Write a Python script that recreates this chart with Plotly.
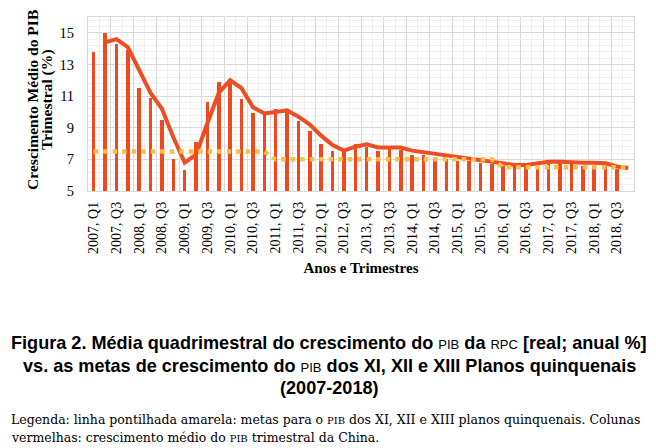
import plotly.graph_objects as go

# quarters 2007 Q1 .. 2018 Q4
years = list(range(2007, 2019))
quarters = ["Q1", "Q2", "Q3", "Q4"]
periods = [f"{y}, {q}" for y in years for q in quarters]

# quarterly GDP growth (red columns); 2018 Q4 has no column
pib_trimestral = [
    13.8, 15.0, 14.3, 13.9,
    11.5, 10.9, 9.5, 7.0,
    6.3, 8.1, 10.6, 11.9,
    12.1, 10.8, 9.9, 9.9,
    10.2, 10.0, 9.4, 8.8,
    8.0, 7.5, 7.5, 8.0,
    7.8, 7.5, 7.8, 7.6,
    7.3, 7.3, 7.0, 7.0,
    6.9, 6.9, 6.8, 6.7,
    6.6, 6.6, 6.6, 6.7,
    6.8, 6.8, 6.7, 6.6,
    6.6, 6.6, 6.4, None,
]

# average growth (thick line), starts at 2007 Q2
media = [
    None, 14.4, 14.6, 14.1,
    12.7, 11.2, 10.2, 8.4,
    6.8, 7.3, 9.3, 11.2,
    12.0, 11.5, 10.3, 9.9,
    10.0, 10.1, 9.7, 9.2,
    8.5, 7.9, 7.55, 7.8,
    7.95, 7.75, 7.75, 7.75,
    7.55, 7.45, 7.3, 7.2,
    7.1, 7.0, 6.95, 6.85,
    6.7, 6.65, 6.65, 6.75,
    6.85, 6.85, 6.8, 6.78,
    6.78, 6.75, 6.55, 6.45,
]

# five-year plan targets (XI, XII, XIII)
metas = [7.5] * 16 + [7.0] * 20 + [6.5] * 12

idx = list(range(len(periods)))
label_idx = idx[::2]
label_txt = periods[::2]

serif = "Liberation Serif"
sans = "Liberation Sans"

fig = go.Figure()
fig.add_trace(go.Bar(x=idx, y=pib_trimestral, width=0.3,
                     marker=dict(color="#ED4A1F", line=dict(width=0)),
                     showlegend=False))
fig.add_trace(go.Scatter(x=idx, y=media, mode="lines", xaxis="x2",
                         line=dict(color="#EC4D22", width=4),
                         showlegend=False))
fig.add_trace(go.Scatter(x=idx, y=metas, mode="lines", xaxis="x2",
                         line=dict(color="#FDBE48", width=4.5, dash="4.5px,5px"),
                         showlegend=False))

# page is offset by the 8px body margin
OFF = 8
L, R, T, B = 88, 634, 17, 191   # plot area in page pixels
W, H = 656 - OFF, 448 - OFF


def px(x):
    return (x - L) / (R - L)


def py(y):
    return (B - y) / (B - T)


annotations = []

# y axis title, two rotated lines
for t, xx in zip(["<b>Crescimento Médio do PIB</b>", "<b>Trimestral (%)</b>"], [32, 47]):
    annotations.append(dict(text=t, x=px(xx), y=py(100), xref="paper", yref="paper",
                            textangle=-90, showarrow=False,
                            xanchor="center", yanchor="middle",
                            font=dict(family=serif, size=15.6, color="#000")))

sc = '<span style="font-size:13px;font-weight:normal">%s</span>'
cap = [
    "<b>Figura 2. Média quadrimestral do crescimento do </b>" + sc % "PIB"
    + "<b> da </b>" + sc % "RPC" + "<b> [real; anual %]</b>",
    "<b>vs. as metas de crescimento do </b>" + sc % "PIB"
    + "<b> dos XI, XII e XIII Planos quinquenais</b>",
    "<b>(2007-2018)</b>",
]
cap_y = [343, 366, 388]
for t, yy in zip(cap, cap_y):
    annotations.append(dict(text=t, x=px(329), y=py(yy), xref="paper", yref="paper",
                            showarrow=False, xanchor="center", yanchor="middle",
                            font=dict(family=sans, size=18.1, color="#000")))

sm = '<span style="font-size:10px">PIB</span>'
leg = [
    "Legenda: linha pontilhada amarela: metas para o " + sm
    + " dos XI, XII e XIII planos quinquenais. Colunas",
    "vermelhas: crescimento médio do " + sm + " trimestral da China.",
]
for t, yy in zip(leg, [419, 437]):
    annotations.append(dict(text=t, x=px(OFF + 1), y=py(yy), xref="paper", yref="paper",
                            showarrow=False, xanchor="left", yanchor="middle",
                            font=dict(family="DejaVu Serif", size=12.5, color="#000")))

fig.update_layout(
    width=W, height=H,
    margin=dict(l=L - OFF, r=W - (R - OFF), t=T - OFF, b=H - (B - OFF), pad=0),
    paper_bgcolor="white", plot_bgcolor="white",
    bargap=0,
    xaxis=dict(range=[-0.5, 47.5], showgrid=True, tick0=-0.5, dtick=2,
               gridcolor="#D9D9D9", gridwidth=1,
               minor=dict(showgrid=True, tick0=-0.5, dtick=1, gridcolor="#F0F0F0"),
               showticklabels=False, ticks="", zeroline=False,
               showline=True, mirror=True, linecolor="#D9D9D9", linewidth=1),
    xaxis2=dict(overlaying="x", anchor="y", side="bottom", range=[-0.5, 47.5],
                tickmode="array", tickvals=label_idx, ticktext=label_txt,
                tickangle=-90, showgrid=False, zeroline=False, ticks="",
                ticklabelstandoff=7,
                tickfont=dict(family=serif, size=14, color="#000"),
                title=dict(text="<b>Anos e Trimestres</b>", standoff=9,
                           font=dict(family=serif, size=15, color="#000"))),
    yaxis=dict(range=[5, 16], tick0=5, dtick=2, showgrid=True,
               gridcolor="#D9D9D9", gridwidth=1,
               minor=dict(showgrid=True, tick0=5, dtick=0.4, gridcolor="#F0F0F0"),
               zeroline=False, ticks="", ticklabelstandoff=10,
               showline=True, mirror=True, linecolor="#D9D9D9", linewidth=1,
               tickfont=dict(family=serif, size=14.5, color="#000")),
    annotations=annotations,
)

fig.write_html("out.html")
